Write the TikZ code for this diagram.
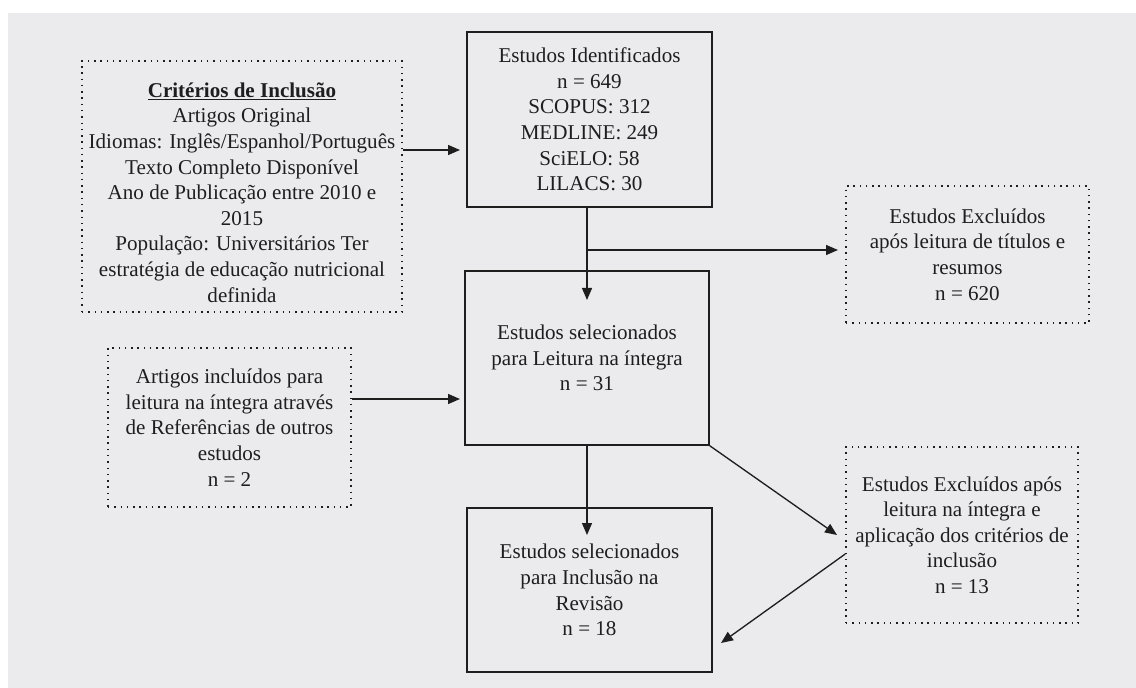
\documentclass[tikz,border=0pt]{standalone}
\usepackage{fontspec}
\setmainfont{Liberation Serif}
\usetikzlibrary{arrows.meta,positioning}
\definecolor{panel}{RGB}{235,235,237}
\definecolor{ink}{RGB}{30,30,30}
\def\px{0.75pt}
\begin{document}
\begin{tikzpicture}[x=0.75pt,y=-0.75pt]
    % Define Styles
        \tikzstyle{block} = [rectangle, draw=ink, text=ink, align=center, inner sep=0pt, line width=1.1pt, font=\fontsize{15.8}{19.2}\selectfont]
        \tikzstyle{dotblock} = [block, line width=1.1pt, dash pattern=on 1.1pt off 3.6pt]
        \tikzstyle{link} = [draw=ink, line width=1pt, -{Triangle[length=9pt,width=7.5pt]}]
    % Background
        \useasboundingbox (0,0) rectangle (1136,688);
        \fill[panel] (8,13) rectangle (1136,688);
    % Place nodes
        \node [dotblock, minimum width=320*\px, minimum height=251*\px] (criteria) at (242,186.5) {\rule{0pt}{20pt}\underline{\textbf{Critérios de Inclusão}}\\Artigos Original\\Idiomas: Inglês/Espanhol/Português\\Texto Completo Disponível\\Ano de Publicação entre 2010 e\\2015\\População: Universitários Ter\\estratégia de educação nutricional\\definida};
        \node [block, minimum width=245*\px, minimum height=175*\px] (ident) at (589.5,119.5) {Estudos Identificados\\n = 649\\SCOPUS: 312\\MEDLINE: 249\\SciELO: 58\\LILACS: 30};
        \node [block, minimum width=244*\px, minimum height=174*\px] (sel) at (587,358) {Estudos selecionados\\para Leitura na íntegra\\n = 31};
        \node [dotblock, minimum width=243*\px, minimum height=137*\px] (excl1) at (967.5,254.5) {Estudos Excluídos\\após leitura de títulos e\\resumos\\n = 620};
        \node [dotblock, minimum width=243*\px, minimum height=159*\px] (artigos) at (229.5,427.5) {Artigos incluídos para\\leitura na íntegra através\\de Referências de outros\\estudos\\n = 2};
        \node [block, minimum width=245*\px, minimum height=164*\px] (incl) at (589.5,590) {Estudos selecionados\\para Inclusão na\\Revisão\\n = 18};
        \node [dotblock, minimum width=232*\px, minimum height=176*\px] (excl2) at (962,535) {Estudos Excluídos após\\leitura na íntegra e\\aplicação dos critérios de\\inclusão\\n = 13};
    % Arrow ends
        \coordinate (tipA) at (460,150);
        \coordinate (tipB) at (587,300);
        \coordinate (fork) at (588,250);
        \coordinate (tipC) at (838,250);
        \coordinate (tipD) at (460,399);
        \coordinate (tipE) at (587,535);
        \coordinate (tipF) at (837,535);
        \coordinate (tipG) at (721,643);
    % Edges
        \draw[link] (criteria.east |- tipA) -- (tipA);
        \draw[link] (ident.south -| tipB) -- (tipB);
        \draw[link] (fork) -- (tipC);
        \draw[link] (artigos.east |- tipD) -- (tipD);
        \draw[link] (sel.south -| tipE) -- (tipE);
        \draw[link] (sel.south east) -- (tipF);
        \draw[link] ([yshift=-19*\px]excl2.west) -- (tipG);
\end{tikzpicture}
\end{document}
